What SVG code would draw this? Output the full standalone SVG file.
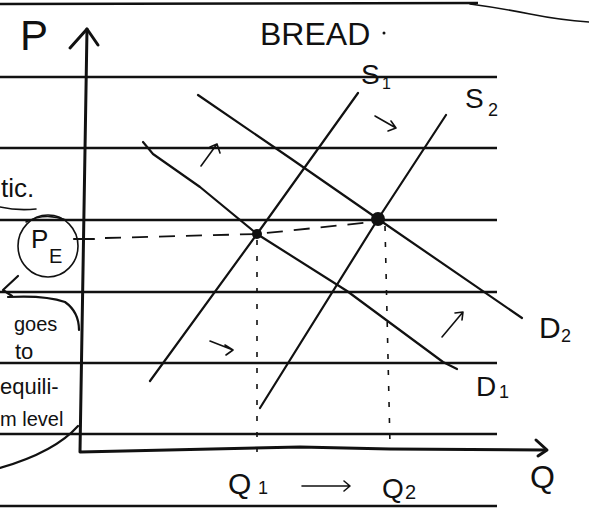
<svg xmlns="http://www.w3.org/2000/svg" width="589" height="508" viewBox="0 0 589 508">
<defs>
<style>
.rule{stroke:#111;stroke-width:2.4;fill:none}
.ink{stroke:#111;stroke-width:2.2;fill:none;stroke-linecap:round;stroke-linejoin:round}
.thin{stroke:#111;stroke-width:1.6;fill:none;stroke-linecap:round;stroke-linejoin:round}
.dashv{stroke:#111;stroke-width:1.6;fill:none;stroke-dasharray:5 11}
.dashh{stroke:#111;stroke-width:1.8;fill:none;stroke-dasharray:16 11}
text{font-family:"Liberation Sans","DejaVu Sans",sans-serif;fill:#111}
</style>
</defs>
<rect width="589" height="508" fill="#fff"/>
<g id="rules">
<path class="rule" d="M0,4 L478,3"/>
<path class="thin" d="M470,4 Q500,8 530,14 T589,22"/>
<line class="rule" x1="0" y1="77" x2="497" y2="77"/>
<line class="rule" x1="0" y1="148" x2="497" y2="148"/>
<line class="rule" x1="0" y1="220" x2="497" y2="220"/>
<line class="rule" x1="0" y1="292" x2="497" y2="292"/>
<line class="rule" x1="0" y1="363" x2="497" y2="363"/>
<line class="rule" x1="0" y1="434" x2="497" y2="434"/>
<line class="rule" x1="0" y1="506" x2="497" y2="506"/>
</g>
<g id="axes">
<path class="ink" style="stroke-width:3" d="M87,29 L80,452 L300,447 L390,449 L546,450"/>
<path class="ink" style="stroke-width:3" d="M70,48 L87,29 L98,45"/>
<path class="ink" style="stroke-width:3" d="M536,440 L547,450 L538,456"/>
<line class="ink" x1="74" y1="239" x2="94" y2="239"/>
</g>
<g id="connectors">
<path id="D1" class="ink" d="M143,142 L153,154 L200,187 L257,234 L347,291 L443,362 L457,369"/>
<path id="D2" class="ink" d="M198,95 L290,158 L378,219 L522,318"/>
<path id="S1" class="ink" d="M150,381 L257,234 L358,93"/>
<path id="S2" class="ink" d="M260,408 L378,219 L446,115"/>
<path class="dashh" d="M105,238 L257,234 L372,222"/>
<path class="dashv" d="M257,240 L257,452"/>
<path class="dashv" d="M385,226 L390,445"/>
<path class="thin" d="M201,166 L217,144 M210,147 L217,144 L220,153"/>
<path class="thin" d="M375,116 L396,128 M391,121 L396,128 L388,131"/>
<path class="thin" d="M210,341 L233,350 M225,345 L233,350 L226,355"/>
<path class="thin" d="M442,337 L463,312 M455,313 L463,312 L462,320"/>
<path class="thin" d="M302,486 L350,486 M344,481 L350,486 L344,491"/>
</g>
<g id="equilibria">
<circle cx="257" cy="234" r="5" fill="#111"/>
<circle cx="378" cy="219" r="7" fill="#111"/>
</g>
<g id="labels">
<text x="20" y="50" font-size="42">P</text>
<text x="260" y="45" font-size="32">BREAD</text>
<circle cx="384" cy="33" r="1.5" fill="#111"/>
<text x="361" y="84" font-size="28">S</text>
<text x="382" y="89" font-size="16">1</text>
<text x="465" y="108" font-size="28">S</text>
<text x="488" y="116" font-size="18">2</text>
<text x="539" y="338" font-size="30">D</text>
<text x="561" y="342" font-size="18">2</text>
<text x="476" y="396" font-size="28">D</text>
<text x="499" y="398" font-size="18">1</text>
<text x="530" y="488" font-size="32">Q</text>
<text x="228" y="494" font-size="30">Q</text>
<text x="258" y="494" font-size="18">1</text>
<text x="382" y="498" font-size="28">Q</text>
<text x="405" y="499" font-size="20">2</text>
</g>
<g id="note">
<text x="1" y="197" font-size="26">tic.</text>
<path class="thin" d="M0,207 Q18,211 36,209"/>
<ellipse class="thin" cx="48" cy="246" rx="30" ry="31"/>
<path class="thin" d="M26,222 Q45,212 66,220"/>
<text x="31" y="248" font-size="26">P</text>
<text x="49" y="263" font-size="20">E</text>
<path class="ink" d="M18,276 L3,290 L12,296"/>
<path class="ink" d="M8,297 Q45,295 65,302 Q79,312 79,330"/>
<path class="ink" d="M78,426 Q55,452 0,468"/>
<text x="14" y="331" font-size="20">goes</text>
<text x="15" y="359" font-size="22">to</text>
<text x="0" y="394" font-size="22">equili-</text>
<text x="0" y="426" font-size="20">m level</text>
</g>
</svg>
